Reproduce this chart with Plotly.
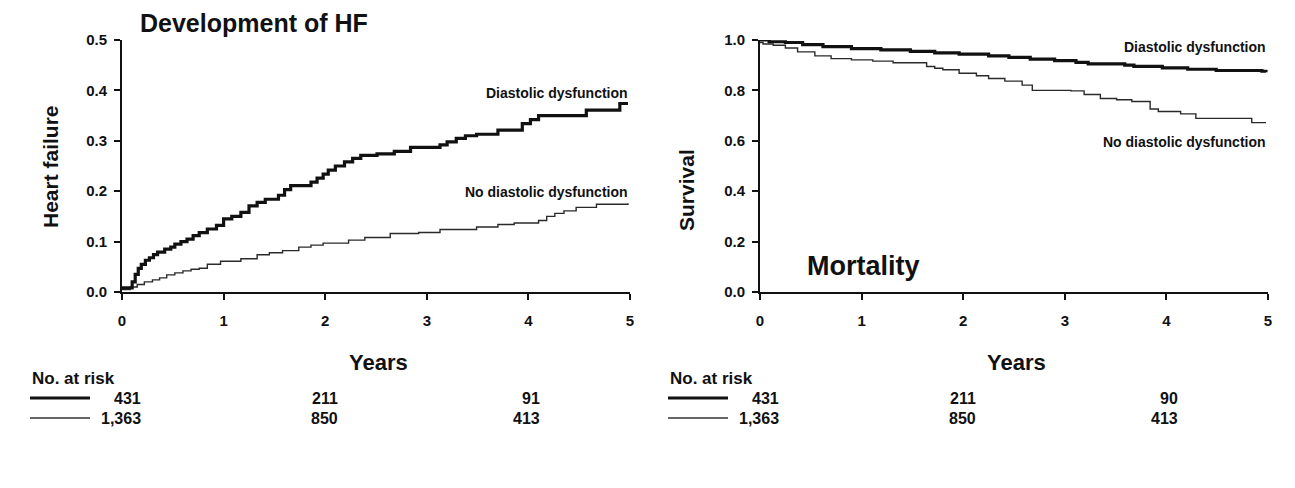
import plotly.graph_objects as go

# window is 1295x488; the page body has an 8px margin, so the figure is inset by 8px
WIN_W, WIN_H = 1295, 488
OFF = 8
W, H = WIN_W - 2 * OFF, WIN_H - 2 * OFF

# ---------------- data ----------------
years_ticks = [0, 1, 2, 3, 4, 5]

# Development of HF (cumulative incidence)
hf_dd_t = [0, 0.10, 0.13, 0.16, 0.19, 0.23, 0.27, 0.31, 0.35, 0.42, 0.48, 0.52, 0.58, 0.64, 0.70, 0.76,
           0.84, 0.93, 1.00, 1.08, 1.17, 1.25, 1.33, 1.41, 1.54, 1.60, 1.66, 1.86, 1.92, 1.98, 2.03,
           2.10, 2.19, 2.27, 2.35, 2.51, 2.68, 2.84, 3.13, 3.20, 3.29, 3.38, 3.49, 3.70, 3.94, 4.02,
           4.10, 4.57, 4.90, 4.98]
hf_dd_v = [0.008, 0.02, 0.035, 0.047, 0.055, 0.063, 0.068, 0.074, 0.079, 0.085, 0.089, 0.095, 0.100,
           0.105, 0.112, 0.118, 0.125, 0.132, 0.145, 0.150, 0.158, 0.171, 0.178, 0.184, 0.192, 0.203,
           0.211, 0.218, 0.226, 0.234, 0.242, 0.250, 0.258, 0.265, 0.271, 0.274, 0.279, 0.287, 0.292,
           0.298, 0.305, 0.310, 0.313, 0.321, 0.334, 0.342, 0.350, 0.361, 0.374, 0.374]

hf_nodd_t = [0, 0.08, 0.15, 0.22, 0.30, 0.37, 0.44, 0.52, 0.60, 0.68, 0.76, 0.84, 0.97, 1.17, 1.33,
             1.45, 1.58, 1.74, 1.86, 1.98, 2.23, 2.39, 2.64, 2.92, 3.13, 3.49, 3.70, 3.86, 4.10, 4.18,
             4.26, 4.35, 4.47, 4.67, 4.98]
hf_nodd_v = [0.005, 0.010, 0.015, 0.020, 0.024, 0.028, 0.034, 0.038, 0.042, 0.045, 0.047, 0.055,
             0.061, 0.066, 0.074, 0.078, 0.082, 0.089, 0.093, 0.097, 0.103, 0.108, 0.116, 0.118,
             0.124, 0.129, 0.134, 0.137, 0.142, 0.150, 0.156, 0.161, 0.168, 0.174, 0.176]

# Mortality (survival)
mo_dd_t = [0, 0.09, 0.25, 0.42, 0.62, 0.90, 1.19, 1.48, 1.72, 1.96, 2.25, 2.45, 2.66, 2.90, 3.11,
           3.23, 3.59, 3.68, 3.96, 4.21, 4.49, 4.94, 4.98]
mo_dd_v = [1.0, 0.993, 0.990, 0.982, 0.974, 0.966, 0.961, 0.955, 0.949, 0.944, 0.937, 0.931, 0.924,
           0.918, 0.911, 0.905, 0.900, 0.895, 0.889, 0.884, 0.879, 0.876, 0.872]

mo_nodd_t = [0, 0.03, 0.13, 0.25, 0.37, 0.54, 0.70, 0.90, 1.11, 1.31, 1.64, 1.72, 1.80, 1.96, 2.13,
             2.25, 2.41, 2.58, 2.68, 3.06, 3.19, 3.35, 3.51, 3.66, 3.84, 3.92, 4.14, 4.29, 4.84, 4.98]
mo_nodd_v = [0.99, 0.984, 0.979, 0.968, 0.953, 0.937, 0.926, 0.921, 0.916, 0.910, 0.895, 0.888,
             0.882, 0.868, 0.858, 0.847, 0.837, 0.821, 0.800, 0.798, 0.784, 0.768, 0.763, 0.756,
             0.726, 0.716, 0.707, 0.689, 0.672, 0.672]

risk_times = [0, 2, 4]
hf_risk_dd = ["431", "211", "91"]
hf_risk_nodd = ["1,363", "850", "413"]
mo_risk_dd = ["431", "211", "90"]
mo_risk_nodd = ["1,363", "850", "413"]

# ---------------- helpers (window pixels -> paper fractions) ----------------
def fx(px):
    return (px - OFF) / W

def fy(py):
    return 1 - (py - OFF) / H

FONT = "Arial, 'Liberation Sans', sans-serif"
BLACK = "#111111"

fig = go.Figure()

thick = dict(color="#111111", width=3.2, shape="hv")
thin = dict(color="#2a2a2a", width=1.4, shape="hv")

fig.add_trace(go.Scatter(x=hf_nodd_t, y=hf_nodd_v, mode="lines", line=thin, xaxis="x", yaxis="y",
                         showlegend=False, hoverinfo="skip"))
fig.add_trace(go.Scatter(x=hf_dd_t, y=hf_dd_v, mode="lines", line=thick, xaxis="x", yaxis="y",
                         showlegend=False, hoverinfo="skip"))
fig.add_trace(go.Scatter(x=mo_nodd_t, y=mo_nodd_v, mode="lines", line=thin, xaxis="x2", yaxis="y2",
                         showlegend=False, hoverinfo="skip"))
fig.add_trace(go.Scatter(x=mo_dd_t, y=mo_dd_v, mode="lines", line=thick, xaxis="x2", yaxis="y2",
                         showlegend=False, hoverinfo="skip"))

tickfont = dict(family=FONT, size=15, color=BLACK, weight="bold")
axis_common = dict(showgrid=False, zeroline=False, showline=True, linecolor=BLACK, linewidth=2,
                   ticks="outside", ticklen=6, tickwidth=2, tickcolor=BLACK, tickfont=tickfont,
                   automargin=False, fixedrange=True)

fig.update_layout(
    width=W, height=H,
    margin=dict(l=0, r=0, t=0, b=0),
    paper_bgcolor="white",
    plot_bgcolor="white",
    xaxis=dict(domain=[fx(122), fx(630)], range=[0, 5], tickvals=years_ticks, anchor="y",
               ticklabelstandoff=8, **axis_common),
    yaxis=dict(domain=[fy(292), fy(40)], range=[0, 0.5], tickvals=[0, 0.1, 0.2, 0.3, 0.4, 0.5],
               tickformat=".1f", anchor="x", ticklabelstandoff=4, **axis_common),
    xaxis2=dict(domain=[fx(760), fx(1268)], range=[0, 5], tickvals=years_ticks, anchor="y2",
                ticklabelstandoff=8, **axis_common),
    yaxis2=dict(domain=[fy(292), fy(40)], range=[0, 1.0], tickvals=[0, 0.2, 0.4, 0.6, 0.8, 1.0],
                tickformat=".1f", anchor="x2", ticklabelstandoff=4, **axis_common),
    showlegend=False,
)

shapes = []
ann = []

def text(x, y, s, size=14, bold=False, xanchor="left", yanchor="middle", xref="paper", yref="paper",
         angle=0, xshift=0):
    f = dict(family=FONT, size=size, color=BLACK)
    if bold:
        f["weight"] = "bold"
    ann.append(dict(x=x, y=y, xref=xref, yref=yref, text=s, showarrow=False, font=f,
                    xanchor=xanchor, yanchor=yanchor, textangle=angle, xshift=xshift))

# Titles
text(fx(138), fy(23), "Development of HF", size=25, bold=True)
text(fx(805), fy(266), "Mortality", size=27, bold=True)

# axis titles
text(fx(50), fy(167), "Heart failure", size=21, bold=True, xanchor="center", angle=-90)
text(fx(686), fy(190), "Survival", size=21, bold=True, xanchor="center", angle=-90)
text(fx(378), fy(362), "Years", size=22, bold=True, xanchor="center")
text(fx(1016), fy(362), "Years", size=22, bold=True, xanchor="center")

# curve labels
text(fx(630), fy(93), "Diastolic dysfunction", size=14, bold=True, xanchor="right")
text(fx(630), fy(192), "No diastolic dysfunction", size=14, bold=True, xanchor="right")
text(fx(1268), fy(47), "Diastolic dysfunction", size=14, bold=True, xanchor="right")
text(fx(1268), fy(142), "No diastolic dysfunction", size=14, bold=True, xanchor="right")

# Numbers at risk tables
col_shift = [21, 15, 14]
for (x0, xa, dd, nodd) in [(30, "x", hf_risk_dd, hf_risk_nodd), (668, "x2", mo_risk_dd, mo_risk_nodd)]:
    text(fx(x0), fy(378), "No. at risk", size=17, bold=True)
    shapes.append(dict(type="line", xref="paper", yref="paper", x0=fx(x0), x1=fx(x0 + 60),
                       y0=fy(398), y1=fy(398), line=dict(color=BLACK, width=3)))
    shapes.append(dict(type="line", xref="paper", yref="paper", x0=fx(x0), x1=fx(x0 + 60),
                       y0=fy(418), y1=fy(418), line=dict(color="#333333", width=1.3)))
    for t, a, b, sh in zip(risk_times, dd, nodd, col_shift):
        text(t, fy(398), a, size=16, bold=True, xanchor="right", xref=xa, xshift=sh)
        text(t, fy(418), b, size=16, bold=True, xanchor="right", xref=xa, xshift=sh)

fig.update_layout(shapes=shapes, annotations=ann)

fig.write_html("out.html")
